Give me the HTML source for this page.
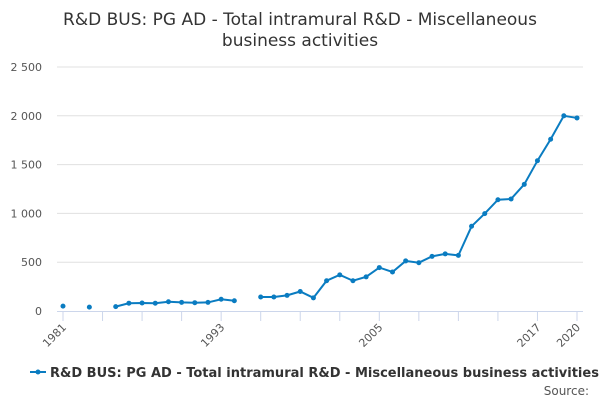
<!DOCTYPE html>
<html><head><meta charset="utf-8"><style>
body{margin:0;background:#fff;font-family:"Liberation Sans","DejaVu Sans",sans-serif;}
svg text{font-family:"DejaVu Sans","Liberation Sans",sans-serif;}
</style></head><body>
<svg id="c" width="600" height="400" xmlns="http://www.w3.org/2000/svg">
<text x="300" y="25" text-anchor="middle" font-size="17" fill="#333">R&amp;D BUS: PG AD - Total intramural R&amp;D - Miscellaneous</text>
<text x="300" y="46" text-anchor="middle" font-size="17" fill="#333">business activities</text>
<g id="grid"></g><g id="xax"></g><g id="series"></g>
<g>
<line x1="30" y1="372" x2="46" y2="372" stroke="#0a7cc1" stroke-width="2"/>
<circle cx="38" cy="372" r="2.5" fill="#0a7cc1"/>
<text x="50" y="377" font-size="13" font-weight="bold" fill="#333">R&amp;D BUS: PG AD - Total intramural R&amp;D - Miscellaneous business activities</text>
</g>
<text x="589" y="395" text-anchor="end" font-size="12" fill="#555">Source:</text>
</svg>
<script>
const years=[1981,1982,1983,1984,1985,1986,1987,1988,1989,1990,1991,1992,1993,1994,1995,1996,1997,1998,1999,2000,2001,2002,2003,2004,2005,2006,2007,2008,2009,2010,2011,2012,2013,2014,2015,2016,2017,2018,2019,2020];
const values=[50,null,40,null,45,80,82,80,95,88,85,88,120,105,null,143,143,160,200,135,310,370,310,350,445,400,513,495,560,585,570,868,998,1140,1148,1298,1540,1760,2000,1978];
const yTicks=[0,500,1000,1500,2000,2500];
const yTickLabels=["0","500","1 000","1 500","2 000","2 500"];
const xLabels=[1981,1993,2005,2017,2020];
const NS="http://www.w3.org/2000/svg";
const X=y=>63+(y-1981)*(577-63)/39;
const Y=v=>311-v*(311-67)/2500;
function mk(t,a,p){const e=document.createElementNS(NS,t);for(const k in a)e.setAttribute(k,a[k]);p.appendChild(e);return e;}
const g=document.getElementById('grid');
yTicks.forEach((v,i)=>{
 if(v>0){const l=mk('line',{x1:57,x2:583,y1:Y(v),y2:Y(v),stroke:'#e0e0e0'},g);
 
 }
 const t=mk('text',{x:42,y:Y(v)+4,'text-anchor':'end','font-size':11,fill:'#555'},g);
 
 
 t.textContent=yTickLabels[i];
});
const xa=document.getElementById('xax');
const ax=mk('line',{x1:57,x2:583,y1:311.5,y2:311.5,stroke:'#ccd6eb'},xa);


for(let y=1981;y<=2020;y+=3){const tk=mk('line',{x1:X(y),x2:X(y),y1:311,y2:321,stroke:'#ccd6eb'},xa);

}
const last=mk('line',{x1:X(2020),x2:X(2020),y1:311,y2:321,stroke:'#ccd6eb'},xa);


xLabels.forEach(y=>{const t=mk('text',{x:X(y)+4,y:328,'text-anchor':'end','font-size':11,fill:'#555',transform:`rotate(-45 ${X(y)+4} 328)`},xa);


t.textContent=y;});
const s=document.getElementById('series');
let seg=[];
const flush=()=>{if(seg.length>1){const p=mk('polyline',{points:seg.join(' '),fill:'none',stroke:'#0a7cc1','stroke-width':2},s);

}seg=[];};
years.forEach((y,i)=>{const v=values[i];if(v==null){flush();return;}seg.push(X(y)+','+Y(v));});
flush();
years.forEach((y,i)=>{const v=values[i];if(v==null)return;const c=mk('circle',{cx:X(y),cy:Y(v),r:2.5,fill:'#0a7cc1'},s);

});
</script>
</body></html>
